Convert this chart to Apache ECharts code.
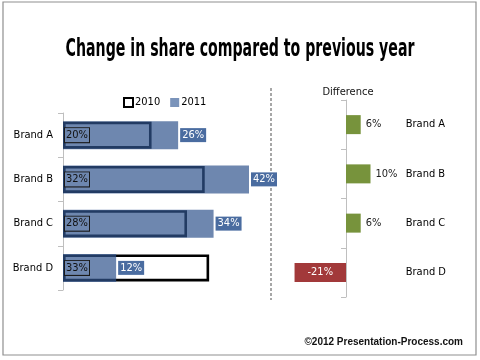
<!DOCTYPE html>
<html>
<head>
<meta charset="utf-8">
<script src="https://cdn.jsdelivr.net/npm/echarts@6/dist/echarts.min.js"></script>
<style>html,body{margin:0;padding:0;background:#fff;}#c{width:480px;height:360px;}</style>
</head>
<body>
<div id="c"></div>
<script>
var brands = ['Brand A', 'Brand B', 'Brand C', 'Brand D'];
var share2010 = [20, 32, 28, 33];
var share2011 = [26, 42, 34, 12];
var difference = [6, 10, 6, -21];
var seriesNames = ['2010', '2011'];
var titleText = 'Change in share compared to previous year';
var diffTitle = 'Difference';
var footer = '\u00A92012 Presentation-Process.com';

var FONT = '"Liberation Sans Narrow", "DejaVu Sans Condensed", "Liberation Sans", sans-serif';
var chart = echarts.init(document.getElementById('c'), null, {renderer: 'canvas'});

var diffData = difference.map(function (v) {
  return v < 0
    ? {value: v, itemStyle: {color: '#A2393A'}, label: {position: 'inside', color: '#fff'}}
    : {value: v, itemStyle: {color: '#77933C'}, label: {position: 'right', distance: 5, color: '#222'}};
});

var catAxisBase = {
  type: 'category', data: brands, inverse: true,
  axisLine: {show: true, lineStyle: {color: '#BFBFBF'}},
  axisTick: {show: true, length: 5, lineStyle: {color: '#BFBFBF'}},
  splitLine: {show: false}
};

chart.setOption({
  animation: false,
  backgroundColor: '#fff',
  legend: {
    left: 118, top: 92, itemWidth: 9, itemHeight: 9, itemGap: 10,
    textStyle: {fontSize: 11, color: '#000', fontFamily: FONT, padding: [0, 0, 0, -3]},
    data: [
      {name: seriesNames[0], icon: 'rect', itemStyle: {color: '#fff', borderColor: '#000', borderWidth: 2}},
      {name: seriesNames[1], icon: 'rect', itemStyle: {color: '#7A93BA', borderWidth: 0}}
    ]
  },
  grid: [
    {left: 63, top: 113, width: 186, height: 177},
    {left: 284.75, top: 100, width: 98, height: 197}
  ],
  xAxis: [
    {type: 'value', gridIndex: 0, min: 0, max: 42, show: false},
    {type: 'value', gridIndex: 1, min: -25, max: 15, show: false}
  ],
  yAxis: [
    Object.assign({}, catAxisBase, {gridIndex: 0,
      axisLabel: {margin: 10, fontSize: 11, color: '#000', fontFamily: FONT}}),
    {type: 'category', data: brands, inverse: true, gridIndex: 0, show: false},
    Object.assign({}, catAxisBase, {gridIndex: 1, axisLabel: {show: false}}),
    {type: 'category', data: brands, inverse: true, gridIndex: 1, position: 'right',
      axisLine: {show: false}, axisTick: {show: false},
      axisLabel: {margin: 23, fontSize: 11, color: '#000', fontFamily: FONT}}
  ],
  series: [
    {
      name: seriesNames[0], type: 'bar', xAxisIndex: 0, yAxisIndex: 0,
      data: share2010, barWidth: 27,
      itemStyle: {color: '#fff', borderColor: '#000', borderWidth: 2.6},
      z: 2
    },
    {
      name: seriesNames[1], type: 'bar', xAxisIndex: 0, yAxisIndex: 1,
      data: share2011, barWidth: 28,
      itemStyle: {color: 'rgba(48,84,141,0.7)'},
      label: {show: true, position: 'right', distance: 2, formatter: '{c}%',
        fontSize: 11, color: '#fff', fontFamily: FONT,
        backgroundColor: '#4A6CA0', padding: [2, 2, 1, 2]},
      z: 3
    },
    {
      name: seriesNames[0] + ' labels', type: 'bar', xAxisIndex: 0, yAxisIndex: 0,
      data: share2010, barWidth: 27, silent: true,
      itemStyle: {color: 'rgba(0,0,0,0)', borderWidth: 0},
      label: {show: true, position: 'insideLeft', distance: 2, formatter: '{c}%',
        fontSize: 11, color: '#111', fontFamily: FONT,
        backgroundColor: '#6E87AF', borderColor: '#1a1a1a', borderWidth: 1, padding: [2, 1, 1, 1]},
      barGap: '-100%',
      z: 5
    },
    {
      name: diffTitle, type: 'bar', xAxisIndex: 1, yAxisIndex: 2,
      data: diffData, barWidth: 19,
      label: {show: true, formatter: '{c}%', fontSize: 11, fontFamily: FONT}
    }
  ],
  graphic: [
    {type: 'rect', shape: {x: 3, y: 2, width: 473, height: 353},
      style: {fill: 'none', stroke: '#8f8f8f', lineWidth: 1.2}, silent: true},
    {type: 'text', x: 240, y: 50, scaleX: 0.655,
      style: {text: titleText, fill: '#000', textAlign: 'center', textVerticalAlign: 'middle',
        font: 'bold 24px "Liberation Sans Narrow", "DejaVu Sans Condensed", sans-serif'}},
    {type: 'text', x: 348, y: 92,
      style: {text: diffTitle, fill: '#111', textAlign: 'center', textVerticalAlign: 'middle',
        font: '11px "Liberation Sans Narrow", "DejaVu Sans Condensed", sans-serif'}},
    {type: 'line', shape: {x1: 271, y1: 88, x2: 271, y2: 300},
      style: {stroke: '#8a8a8a', lineWidth: 1.5, lineDash: [3, 2]}, silent: true},
    {type: 'text', x: 463, y: 342,
      style: {text: footer, fill: '#111', textAlign: 'right', textVerticalAlign: 'middle',
        font: 'bold 10px "Liberation Sans", Arial, sans-serif'}}
  ]
});
</script>
</body>
</html>
